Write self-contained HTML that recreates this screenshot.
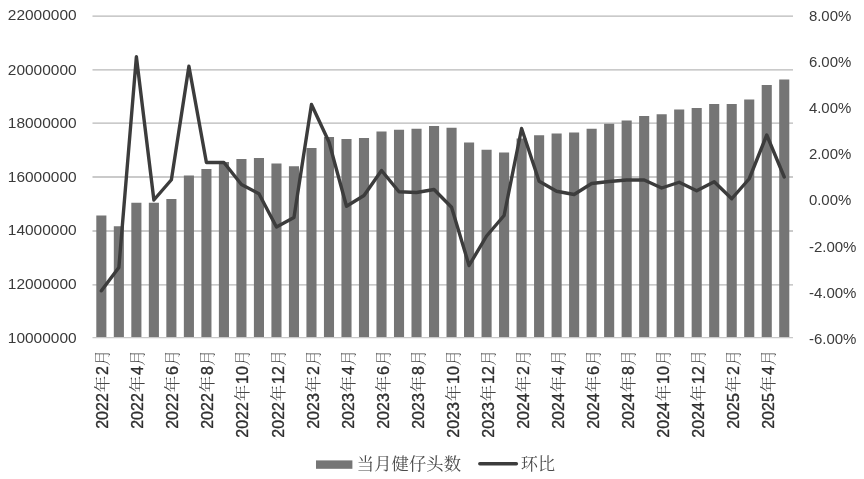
<!DOCTYPE html>
<html lang="zh-CN">
<head>
<meta charset="utf-8">
<title>当月健仔头数 / 环比</title>
<style>
html,body{margin:0;padding:0;background:#fff;}
body{width:864px;height:479px;overflow:hidden;}
svg{display:block;}
.ax{font-family:"Liberation Sans","Noto Sans CJK SC",sans-serif;fill:#3a3a3a;}
.cat{font-family:"Liberation Sans","Noto Serif CJK SC",sans-serif;fill:#2e2e2e;}
.cat .d{font-size:16px;stroke:#2e2e2e;stroke-width:0.35px;}
.cat .c{font-size:16.4px;font-weight:300;fill:#444;}
.lg{font-family:"Liberation Serif","Noto Serif CJK SC",serif;fill:#4a4a4a;}
</style>
</head>
<body>
<svg width="864" height="479" viewBox="0 0 864 479">
<rect x="0" y="0" width="864" height="479" fill="#ffffff"/>

<g stroke="#b8b8b8" stroke-width="1.4" fill="none">
<line x1="92.5" y1="16.10" x2="793" y2="16.10"/>
<line x1="92.5" y1="69.90" x2="793" y2="69.90"/>
<line x1="92.5" y1="123.10" x2="793" y2="123.10"/>
<line x1="92.5" y1="177.00" x2="793" y2="177.00"/>
<line x1="92.5" y1="231.00" x2="793" y2="231.00"/>
<line x1="92.5" y1="284.90" x2="793" y2="284.90"/>
</g>
<g fill="#757575">
<rect x="96.30" y="215.50" width="10.1" height="121.50"/>
<rect x="113.81" y="226.25" width="10.1" height="110.75"/>
<rect x="131.32" y="202.75" width="10.1" height="134.25"/>
<rect x="148.83" y="202.75" width="10.1" height="134.25"/>
<rect x="166.34" y="199.00" width="10.1" height="138.00"/>
<rect x="183.85" y="175.50" width="10.1" height="161.50"/>
<rect x="201.37" y="169.00" width="10.1" height="168.00"/>
<rect x="218.88" y="162.00" width="10.1" height="175.00"/>
<rect x="236.38" y="159.00" width="10.1" height="178.00"/>
<rect x="253.90" y="158.00" width="10.1" height="179.00"/>
<rect x="271.41" y="163.50" width="10.1" height="173.50"/>
<rect x="288.92" y="166.25" width="10.1" height="170.75"/>
<rect x="306.43" y="148.00" width="10.1" height="189.00"/>
<rect x="323.94" y="137.00" width="10.1" height="200.00"/>
<rect x="341.44" y="139.00" width="10.1" height="198.00"/>
<rect x="358.95" y="138.00" width="10.1" height="199.00"/>
<rect x="376.46" y="131.50" width="10.1" height="205.50"/>
<rect x="393.97" y="129.75" width="10.1" height="207.25"/>
<rect x="411.48" y="128.75" width="10.1" height="208.25"/>
<rect x="429.00" y="126.00" width="10.1" height="211.00"/>
<rect x="446.51" y="127.75" width="10.1" height="209.25"/>
<rect x="464.02" y="142.50" width="10.1" height="194.50"/>
<rect x="481.53" y="149.75" width="10.1" height="187.25"/>
<rect x="499.04" y="152.50" width="10.1" height="184.50"/>
<rect x="516.55" y="138.50" width="10.1" height="198.50"/>
<rect x="534.06" y="135.25" width="10.1" height="201.75"/>
<rect x="551.57" y="133.50" width="10.1" height="203.50"/>
<rect x="569.08" y="132.50" width="10.1" height="204.50"/>
<rect x="586.59" y="128.75" width="10.1" height="208.25"/>
<rect x="604.10" y="123.75" width="10.1" height="213.25"/>
<rect x="621.61" y="120.50" width="10.1" height="216.50"/>
<rect x="639.12" y="116.00" width="10.1" height="221.00"/>
<rect x="656.63" y="114.25" width="10.1" height="222.75"/>
<rect x="674.14" y="109.50" width="10.1" height="227.50"/>
<rect x="691.65" y="108.00" width="10.1" height="229.00"/>
<rect x="709.16" y="104.00" width="10.1" height="233.00"/>
<rect x="726.67" y="104.00" width="10.1" height="233.00"/>
<rect x="744.18" y="99.50" width="10.1" height="237.50"/>
<rect x="761.69" y="85.00" width="10.1" height="252.00"/>
<rect x="779.20" y="79.50" width="10.1" height="257.50"/>
</g>
<line x1="92.5" y1="337.6" x2="793" y2="337.6" stroke="#c8c8c8" stroke-width="1.3"/>
<polyline points="101.35,290.80 118.86,267.50 136.38,56.80 153.88,200.00 171.39,179.75 188.91,66.20 206.42,162.50 223.93,162.50 241.44,184.50 258.95,193.75 276.46,227.00 293.97,217.50 311.48,104.50 328.99,142.00 346.50,206.25 364.00,195.50 381.51,170.50 399.02,191.75 416.53,192.50 434.05,189.50 451.56,207.25 469.07,265.50 486.58,236.00 504.09,215.50 521.60,128.50 539.11,181.25 556.62,191.25 574.12,194.50 591.63,183.50 609.15,181.50 626.66,180.00 644.17,180.00 661.68,188.00 679.19,182.25 696.70,190.75 714.21,181.75 731.72,198.75 749.23,178.75 766.74,135.00 784.25,177.00" fill="none" stroke="#3c3c3c" stroke-width="3.4" stroke-linejoin="round" stroke-linecap="round"/>
<g class="ax" font-size="15.3" text-anchor="end">
<text x="76.6" y="20.25" textLength="68.8" lengthAdjust="spacingAndGlyphs">22000000</text>
<text x="76.6" y="74.55" textLength="68.8" lengthAdjust="spacingAndGlyphs">20000000</text>
<text x="76.6" y="127.95" textLength="68.8" lengthAdjust="spacingAndGlyphs">18000000</text>
<text x="76.6" y="181.85" textLength="68.8" lengthAdjust="spacingAndGlyphs">16000000</text>
<text x="76.6" y="235.35" textLength="68.8" lengthAdjust="spacingAndGlyphs">14000000</text>
<text x="76.6" y="289.35" textLength="68.8" lengthAdjust="spacingAndGlyphs">12000000</text>
<text x="76.6" y="342.95" textLength="68.8" lengthAdjust="spacingAndGlyphs">10000000</text>
</g>
<g class="ax" font-size="15.5" text-anchor="start">
<text x="808.9" y="20.80" textLength="42.4" lengthAdjust="spacingAndGlyphs">8.00%</text>
<text x="808.9" y="66.97" textLength="42.4" lengthAdjust="spacingAndGlyphs">6.00%</text>
<text x="808.9" y="113.14" textLength="42.4" lengthAdjust="spacingAndGlyphs">4.00%</text>
<text x="808.9" y="159.31" textLength="42.4" lengthAdjust="spacingAndGlyphs">2.00%</text>
<text x="808.9" y="205.48" textLength="42.4" lengthAdjust="spacingAndGlyphs">0.00%</text>
<text x="808.9" y="251.65" textLength="47.6" lengthAdjust="spacingAndGlyphs">-2.00%</text>
<text x="808.9" y="297.82" textLength="47.6" lengthAdjust="spacingAndGlyphs">-4.00%</text>
<text x="808.9" y="343.99" textLength="47.6" lengthAdjust="spacingAndGlyphs">-6.00%</text>
</g>
<g class="cat" text-anchor="end">
<text transform="translate(108.36,349.7) rotate(-90)" x="0" y="0"><tspan class="d">2022</tspan><tspan class="c" dx="0.9">年</tspan><tspan class="d" dx="0.9">2</tspan><tspan class="c">月</tspan></text>
<text transform="translate(143.39,349.7) rotate(-90)" x="0" y="0"><tspan class="d">2022</tspan><tspan class="c" dx="0.9">年</tspan><tspan class="d" dx="0.9">4</tspan><tspan class="c">月</tspan></text>
<text transform="translate(178.42,349.7) rotate(-90)" x="0" y="0"><tspan class="d">2022</tspan><tspan class="c" dx="0.9">年</tspan><tspan class="d" dx="0.9">6</tspan><tspan class="c">月</tspan></text>
<text transform="translate(213.45,349.7) rotate(-90)" x="0" y="0"><tspan class="d">2022</tspan><tspan class="c" dx="0.9">年</tspan><tspan class="d" dx="0.9">8</tspan><tspan class="c">月</tspan></text>
<text transform="translate(248.48,349.7) rotate(-90)" x="0" y="0"><tspan class="d">2022</tspan><tspan class="c" dx="0.9">年</tspan><tspan class="d" dx="0.9">10</tspan><tspan class="c">月</tspan></text>
<text transform="translate(283.51,349.7) rotate(-90)" x="0" y="0"><tspan class="d">2022</tspan><tspan class="c" dx="0.9">年</tspan><tspan class="d" dx="0.9">12</tspan><tspan class="c">月</tspan></text>
<text transform="translate(318.54,349.7) rotate(-90)" x="0" y="0"><tspan class="d">2023</tspan><tspan class="c" dx="0.9">年</tspan><tspan class="d" dx="0.9">2</tspan><tspan class="c">月</tspan></text>
<text transform="translate(353.57,349.7) rotate(-90)" x="0" y="0"><tspan class="d">2023</tspan><tspan class="c" dx="0.9">年</tspan><tspan class="d" dx="0.9">4</tspan><tspan class="c">月</tspan></text>
<text transform="translate(388.60,349.7) rotate(-90)" x="0" y="0"><tspan class="d">2023</tspan><tspan class="c" dx="0.9">年</tspan><tspan class="d" dx="0.9">6</tspan><tspan class="c">月</tspan></text>
<text transform="translate(423.63,349.7) rotate(-90)" x="0" y="0"><tspan class="d">2023</tspan><tspan class="c" dx="0.9">年</tspan><tspan class="d" dx="0.9">8</tspan><tspan class="c">月</tspan></text>
<text transform="translate(458.66,349.7) rotate(-90)" x="0" y="0"><tspan class="d">2023</tspan><tspan class="c" dx="0.9">年</tspan><tspan class="d" dx="0.9">10</tspan><tspan class="c">月</tspan></text>
<text transform="translate(493.69,349.7) rotate(-90)" x="0" y="0"><tspan class="d">2023</tspan><tspan class="c" dx="0.9">年</tspan><tspan class="d" dx="0.9">12</tspan><tspan class="c">月</tspan></text>
<text transform="translate(528.72,349.7) rotate(-90)" x="0" y="0"><tspan class="d">2024</tspan><tspan class="c" dx="0.9">年</tspan><tspan class="d" dx="0.9">2</tspan><tspan class="c">月</tspan></text>
<text transform="translate(563.75,349.7) rotate(-90)" x="0" y="0"><tspan class="d">2024</tspan><tspan class="c" dx="0.9">年</tspan><tspan class="d" dx="0.9">4</tspan><tspan class="c">月</tspan></text>
<text transform="translate(598.78,349.7) rotate(-90)" x="0" y="0"><tspan class="d">2024</tspan><tspan class="c" dx="0.9">年</tspan><tspan class="d" dx="0.9">6</tspan><tspan class="c">月</tspan></text>
<text transform="translate(633.81,349.7) rotate(-90)" x="0" y="0"><tspan class="d">2024</tspan><tspan class="c" dx="0.9">年</tspan><tspan class="d" dx="0.9">8</tspan><tspan class="c">月</tspan></text>
<text transform="translate(668.84,349.7) rotate(-90)" x="0" y="0"><tspan class="d">2024</tspan><tspan class="c" dx="0.9">年</tspan><tspan class="d" dx="0.9">10</tspan><tspan class="c">月</tspan></text>
<text transform="translate(703.87,349.7) rotate(-90)" x="0" y="0"><tspan class="d">2024</tspan><tspan class="c" dx="0.9">年</tspan><tspan class="d" dx="0.9">12</tspan><tspan class="c">月</tspan></text>
<text transform="translate(738.90,349.7) rotate(-90)" x="0" y="0"><tspan class="d">2025</tspan><tspan class="c" dx="0.9">年</tspan><tspan class="d" dx="0.9">2</tspan><tspan class="c">月</tspan></text>
<text transform="translate(773.93,349.7) rotate(-90)" x="0" y="0"><tspan class="d">2025</tspan><tspan class="c" dx="0.9">年</tspan><tspan class="d" dx="0.9">4</tspan><tspan class="c">月</tspan></text>
</g>
<rect x="316" y="460.4" width="36.4" height="8.4" fill="#757575"/>
<text class="lg" x="356.8" y="470.2" font-size="16.6" textLength="104.2" lengthAdjust="spacingAndGlyphs">当月健仔头数</text>
<line x1="479.8" y1="463.8" x2="516.4" y2="463.8" stroke="#3c3c3c" stroke-width="3.4" stroke-linecap="round"/>
<text class="lg" x="520.8" y="470.2" font-size="16.6" textLength="34.4" lengthAdjust="spacingAndGlyphs">环比</text>
</svg>
</body>
</html>
